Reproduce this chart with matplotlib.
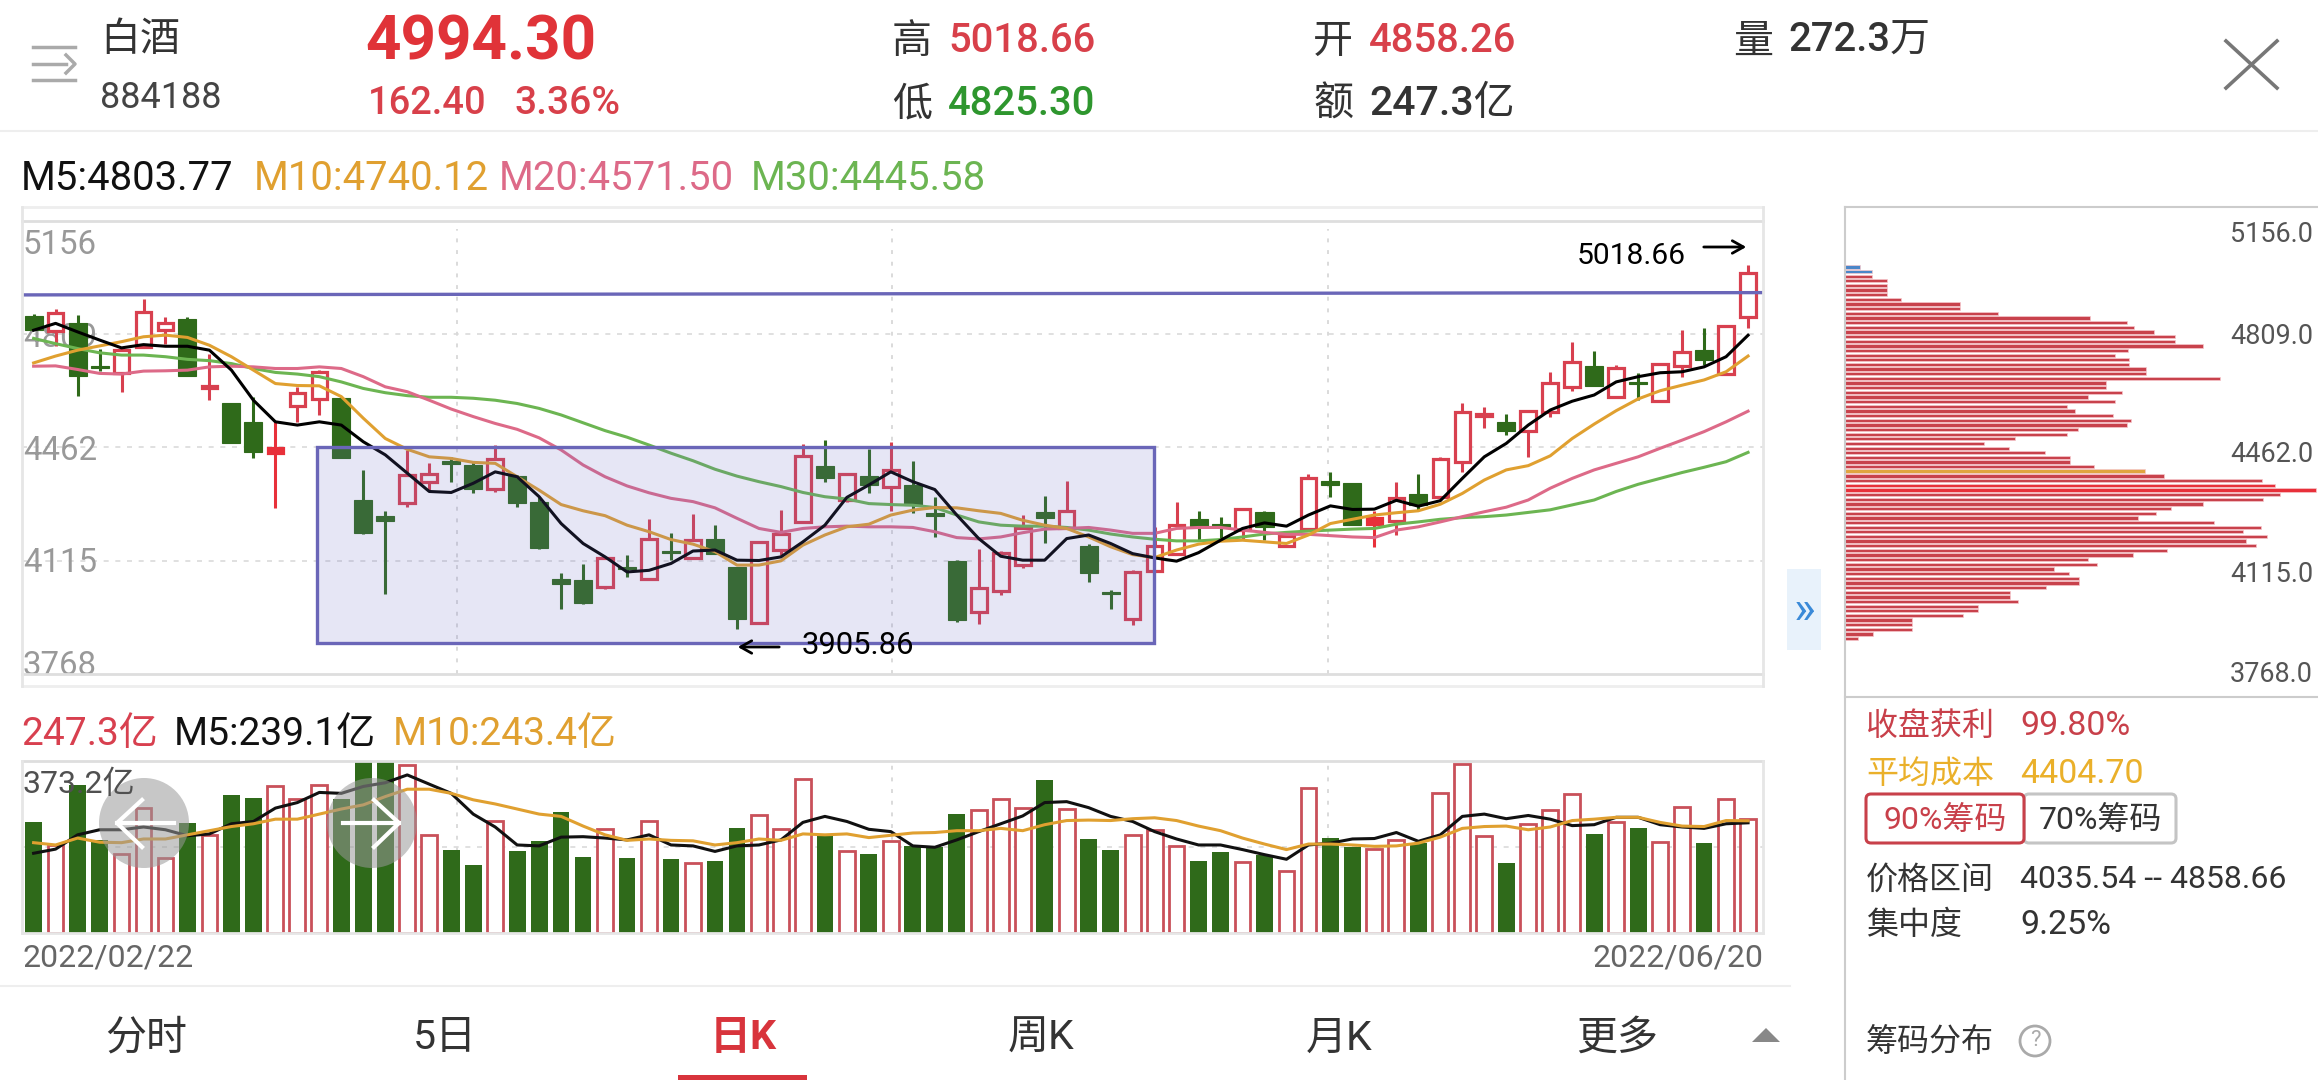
import numpy as np
import matplotlib
matplotlib.use("Agg")
import matplotlib.pyplot as plt
from matplotlib.patches import Circle, Rectangle, FancyBboxPatch

plt.rcParams['font.family'] = ['Roboto', 'Noto Sans CJK SC', 'DejaVu Sans']

W = 2318
H = 1080

# candles
opens = [4862, 4817, 4840, 4710, 4689, 4768, 4819, 4853, 4641, 4595, 4537, 4443, 4587, 4609, 4611, 4300,
         4250, 4292, 4355, 4419, 4407, 4335, 4374, 4293, 4057, 4055, 4034, 4096, 4059, 4145, 4124, 4182,
         4095, 3924, 4147, 4233, 4404, 4300, 4374, 4341, 4346, 4259, 4113, 3958, 4021, 4101, 4263, 4213,
         4159, 4019, 3937, 4082, 4134, 4241, 4228, 4208, 4262, 4159, 4211, 4357, 4351, 4228, 4236, 4317,
         4308, 4415, 4557, 4537, 4512, 4570, 4646, 4710, 4616, 4661, 4603, 4710, 4758, 4686, 4858.26]
closes = [4821, 4873, 4680, 4704, 4758, 4875, 4842, 4680, 4649, 4473, 4448, 4458, 4626, 4692, 4427, 4200,
          4237, 4376, 4379, 4409, 4335, 4424, 4290, 4154, 4042, 3985, 4123, 4089, 4180, 4138, 4177, 4136,
          3936, 4173, 4196, 4434, 4368, 4379, 4347, 4392, 4284, 4251, 3932, 4032, 4139, 4213, 4246, 4267,
          4077, 4013, 4080, 4159, 4225, 4220, 4218, 4271, 4218, 4190, 4368, 4345, 4225, 4244, 4305, 4284,
          4426, 4570, 4563, 4512, 4573, 4658, 4721, 4649, 4704, 4655, 4717, 4752, 4728, 4831, 4994.30]
highs = [4870, 4885, 4867, 4763, 4763, 4914, 4858, 4860, 4746, 4595, 4616, 4539, 4646, 4697, 4616, 4392,
         4266, 4453, 4412, 4430, 4417, 4468, 4376, 4308, 4077, 4104, 4124, 4131, 4242, 4198, 4256, 4223,
         4095, 4173, 4269, 4471, 4483, 4381, 4456, 4476, 4419, 4308, 4117, 4149, 4145, 4254, 4312, 4358,
         4164, 4026, 4086, 4218, 4294, 4266, 4249, 4273, 4266, 4194, 4378, 4385, 4351, 4267, 4355, 4378,
         4432, 4595, 4583, 4562, 4575, 4692, 4782, 4755, 4712, 4687, 4720, 4821, 4826, 4836, 5018.66]
lows = [4821, 4770, 4619, 4695, 4631, 4768, 4778, 4680, 4605, 4473, 4427, 4275, 4539, 4560, 4427, 4196,
        4014, 4279, 4328, 4356, 4320, 4324, 4279, 4149, 3968, 3983, 4029, 4065, 4059, 4116, 4121, 4136,
        3906, 3924, 4131, 4233, 4354, 4295, 4322, 4267, 4259, 4187, 3927, 3922, 4008, 4091, 4167, 4213,
        4050, 3967, 3919, 4080, 4131, 4177, 4182, 4182, 4179, 4159, 4211, 4310, 4225, 4155, 4193, 4269,
        4308, 4387, 4519, 4499, 4432, 4555, 4634, 4649, 4616, 4605, 4603, 4677, 4712, 4686, 4825.30]

# moving averages
m5 = [4819, 4840, 4814, 4789, 4765, 4775, 4770, 4770, 4758, 4697, 4605, 4539, 4529, 4539, 4529, 4478,
      4438, 4382, 4326, 4323, 4351, 4386, 4371, 4310, 4228, 4167, 4126, 4080, 4085, 4106, 4144, 4147,
      4116, 4115, 4126, 4172, 4223, 4308, 4346, 4386, 4356, 4332, 4254, 4182, 4128, 4116, 4116, 4182,
      4193, 4167, 4136, 4123, 4113, 4139, 4177, 4213, 4230, 4220, 4254, 4282, 4271, 4272, 4299, 4281,
      4298, 4366, 4432, 4473, 4529, 4575, 4602, 4621, 4661, 4677, 4689, 4692, 4707, 4738, 4803.77]
m10 = [4719, 4740, 4758, 4771, 4784, 4799, 4804, 4797, 4773, 4738, 4697, 4656, 4650, 4649, 4616, 4550,
       4488, 4455, 4432, 4427, 4415, 4412, 4371, 4330, 4286, 4267, 4252, 4223, 4203, 4179, 4165, 4142,
       4101, 4101, 4114, 4162, 4193, 4218, 4226, 4254, 4269, 4277, 4276, 4267, 4259, 4238, 4223, 4213,
       4187, 4157, 4133, 4124, 4147, 4165, 4174, 4177, 4172, 4167, 4193, 4228, 4241, 4254, 4261, 4267,
       4287, 4320, 4361, 4392, 4405, 4435, 4488, 4532, 4573, 4609, 4634, 4651, 4667, 4692, 4740.12]
m20 = [4709, 4710, 4699, 4687, 4685, 4694, 4695, 4697, 4707, 4709, 4707, 4702, 4702, 4707, 4702, 4677,
       4646, 4631, 4605, 4578, 4555, 4534, 4516, 4490, 4453, 4407, 4371, 4343, 4322, 4305, 4295, 4276,
       4244, 4213, 4201, 4213, 4218, 4220, 4218, 4218, 4216, 4203, 4185, 4181, 4187, 4200, 4211, 4213,
       4216, 4208, 4198, 4198, 4213, 4216, 4216, 4208, 4201, 4195, 4195, 4191, 4187, 4185, 4208, 4218,
       4233, 4249, 4264, 4278, 4300, 4336, 4366, 4392, 4412, 4432, 4458, 4483, 4509, 4539, 4571.50]
m30 = [4794, 4778, 4763, 4750, 4743, 4743, 4738, 4730, 4726, 4717, 4702, 4690, 4685, 4677, 4661, 4641,
       4628, 4619, 4614, 4614, 4611, 4605, 4595, 4580, 4560, 4536, 4512, 4492, 4468, 4443, 4420, 4394,
       4373, 4356, 4341, 4323, 4310, 4303, 4289, 4286, 4284, 4277, 4254, 4233, 4223, 4220, 4220, 4216,
       4208, 4196, 4187, 4180, 4175, 4175, 4179, 4187, 4196, 4201, 4205, 4208, 4211, 4213, 4226, 4233,
       4241, 4246, 4249, 4254, 4262, 4270, 4285, 4300, 4326, 4348, 4366, 4384, 4400, 4417, 4445.58]

# volume in 亿
volumes = [241, 191, 321, 202, 172, 271, 162, 238, 213, 300, 292, 319, 290, 321, 290, 373.2,
           373.2, 365, 213, 181, 148, 242, 178, 200, 263, 165, 225, 162, 243, 160, 152, 157,
           227, 256, 225, 334, 211, 178, 172, 200, 188, 186, 258, 267, 291, 271, 332, 269,
           204, 181, 213, 224, 189, 157, 176, 155, 170, 135, 314, 206, 186, 182, 202, 195,
           303, 367, 211, 152, 237, 267, 302, 215, 240, 227, 198, 273, 195, 291, 247.3]
vol_m5 = [173, 182, 213, 224, 224, 230, 224, 211, 215, 237, 242, 271, 283, 305, 303, 318,
          326, 343, 323, 303, 258, 230, 191, 189, 208, 209, 206, 202, 213, 191, 189, 177,
          189, 191, 202, 240, 253, 242, 225, 220, 189, 186, 202, 220, 237, 254, 283, 285,
          272, 253, 242, 220, 204, 191, 191, 181, 170, 160, 191, 195, 204, 205, 218, 199,
          213, 253, 258, 248, 255, 247, 233, 235, 251, 251, 235, 230, 227, 237, 239.1]
vol_m10 = [196, 191, 206, 197, 196, 204, 204, 213, 222, 231, 237, 247, 247, 258, 269, 278,
           296, 312, 312, 303, 289, 280, 269, 258, 253, 232, 213, 201, 204, 201, 200, 191,
           196, 204, 201, 215, 213, 215, 207, 212, 217, 218, 222, 222, 227, 222, 235, 244,
           245, 244, 248, 250, 244, 232, 222, 206, 193, 181, 193, 193, 191, 188, 189, 195,
           208, 227, 231, 232, 224, 230, 244, 247, 251, 251, 240, 232, 231, 244, 243.4]

# chip distribution, row lengths from top row to bottom row
chip_rows = [46, 82, 82, 127, 127, 127, 127, 169, 346, 346,
             460, 736, 846, 866, 928, 989, 991, 1074, 849, 810,
             852, 852, 902, 903, 1126, 782, 782, 830, 729, 809,
             667, 690, 805, 857, 847, 699, 667, 511, 416, 493,
             599, 676, 676, 748, 899, 957, 1251, 1289, 1414, 1306,
             1255, 1074, 979, 932, 879, 1108, 1249, 1195, 1266, 1202,
             1233, 966, 863, 729, 757, 626, 673, 701, 702, 603,
             496, 496, 520, 400, 400, 354, 202, 202, 202, 84, 39]
chip_top_price = 5001
chip_bottom_price = 3921

main_ticks = [4809, 4462, 4115]
main_labels = ['5156', '4809', '4462', '4115', '3768']
chip_labels = ['5156.0', '4809.0', '4462.0', '4115.0', '3768.0']
tabs = ['分时', '5日', '日K', '周K', '月K', '更多']

RED = '#d8404f'
BRIGHT = '#e8303a'
GREEN = '#2f6a1a'
ORANGE = '#e0a030'
PINK = '#dd6a88'
LEAF = '#6cb552'
BLUE = '#6a66b8'
GRID = '#dadada'
FRAME = '#dedede'


def box(x0, y0, x1, y1):
    return fig.add_axes([x0 / W, 1 - y1 / H, (x1 - x0) / W, (y1 - y0) / H])


def put(x, y, s, size, color, ha='left', weight='normal'):
    # va center sits a bit high for these fonts
    ui.text(x, y + 3, s, fontsize=size * 0.72, color=color, ha=ha, va='center', weight=weight)


def bare(a):
    a.set_xticks([])
    a.set_yticks([])
    for s in a.spines.values():
        s.set_visible(False)
    a.patch.set_alpha(0)


fig = plt.figure(figsize=(W / 100, H / 100), dpi=100, facecolor='white')

ui = fig.add_axes([0, 0, 1, 1], zorder=5)
ui.set_xlim(0, W)
ui.set_ylim(H, 0)
bare(ui)

xs = np.arange(len(opens))
x_left = -0.528
x_right = 78.68
grid_x = [19.25, 39.07, 58.9]

# main price panel
ax = box(22, 220, 1763, 674)
bare(ax)
ax.set_xlim(x_left, x_right)
ax.set_ylim(3768, 5156)
for p in main_ticks:
    ax.plot([x_left, x_right], [p, p], color=GRID, lw=1.2, ls=(0, (3, 4)), zorder=1)
for g in grid_x:
    ax.plot([g, g], [3768, 5130], color=GRID, lw=1.4, ls=(0, (2, 4)), zorder=1)
for lab, y in zip(main_labels, [245, 338, 451, 563, 666]):
    ax.text(23, y, lab, transform=ui.transData, fontsize=33 * 0.72, color='#999999', va='center', zorder=1)

for i in xs:
    up = closes[i] >= opens[i]
    solid = i in (11, 61)
    col = BRIGHT if solid else (RED if up else GREEN)
    ax.plot([i, i], [lows[i], highs[i]], color=col, lw=2.2, zorder=2, solid_capstyle='butt')
    if up:
        face = BRIGHT if solid else 'white'
        ax.bar(i, closes[i] - opens[i], bottom=opens[i], width=0.71, facecolor=face, edgecolor=col, lw=2.3, zorder=3)
    else:
        ax.bar(i, opens[i] - closes[i], bottom=closes[i], width=0.82, facecolor=col, edgecolor=col, lw=0.8, zorder=3)

ax.plot(xs, m30, color=LEAF, lw=2.2, zorder=4)
ax.plot(xs, m20, color=PINK, lw=2.2, zorder=4)
ax.plot(xs, m10, color=ORANGE, lw=2.2, zorder=4)
ax.plot(xs, m5, color='black', lw=2.2, zorder=5)

# hand drawn marks on the screenshot
ax.plot([x_left, x_right], [4927, 4934], color=BLUE, lw=2.4, zorder=6)
ax.add_patch(Rectangle((12.9, 3863), 50.97 - 12.9, 4462 - 3863, facecolor=(0.42, 0.42, 0.78, 0.17),
                       edgecolor=BLUE, lw=2.4, zorder=6))
put(1577, 253, '5018.66', 30, 'black')
ui.annotate('', xy=(1749, 247), xytext=(1701, 247), arrowprops=dict(arrowstyle='->,head_width=0.45,head_length=0.8', color='black', lw=2))
put(802, 643, '3905.86', 31, 'black')
ui.annotate('', xy=(735, 647), xytext=(782, 647), arrowprops=dict(arrowstyle='->,head_width=0.45,head_length=0.8', color='black', lw=2))

# volume panel
vx = box(22, 761, 1763, 933)
bare(vx)
vx.set_xlim(x_left, x_right)
vx.set_ylim(0, 373.2)
vx.plot([x_left, x_right], [186.6, 186.6], color=GRID, lw=1.2, ls=(0, (3, 4)), zorder=1)
for g in grid_x:
    vx.plot([g, g], [0, 373.2], color=GRID, lw=1.4, ls=(0, (2, 4)), zorder=1)
for i in xs:
    if closes[i] >= opens[i]:
        vx.bar(i, volumes[i], width=0.72, facecolor='white', edgecolor='#c9505a', lw=2.0, zorder=2)
    else:
        vx.bar(i, volumes[i], width=0.76, color=GREEN, zorder=2)
vx.plot(xs, vol_m5, color='#111111', lw=2.2, zorder=3)
vx.plot(xs, vol_m10, color=ORANGE, lw=2.2, zorder=3)
put(23, 781, '373.2亿', 32, '#505050')

# chip panel
cx = box(1845, 213.5, 2318, 691.4)
bare(cx)
cx.set_xlim(0, 1419)
cx.set_ylim(3768, 5156)
prices = np.linspace(chip_top_price, chip_bottom_price, len(chip_rows))
for k, (p, v) in enumerate(zip(prices, chip_rows)):
    col = '#c8424c'
    hh = 9.5
    if k < 2:
        col = '#4a86c8'
    elif k == 44:
        col = '#e0a540'
        hh = 11.5
    elif k in (47, 48):
        col = BRIGHT
    cx.barh(p, v, height=hh, color=col, edgecolor='#f6c8cc', lw=0.5)
for lab, y in zip(chip_labels, [231, 333, 452, 572, 672]):
    put(2313, y, lab, 27, '#555555', ha='right')

# frames and separators
for y0, c in [(207, '#eeeeee'), (220.5, FRAME), (673.5, FRAME), (686, '#eeeeee')]:
    ui.plot([22, 1763], [y0, y0], color=c, lw=2)
ui.plot([22, 22], [207, 686], color='#e6e6e6', lw=2)
ui.plot([1763, 1763], [207, 686], color='#e6e6e6', lw=2)
ui.plot([22, 1763], [761, 761], color=FRAME, lw=2)
ui.plot([22, 22], [761, 933], color='#e6e6e6', lw=2)
ui.plot([1763, 1763], [761, 933], color='#e6e6e6', lw=2)
ui.plot([22, 1763], [933, 933], color='#e6e6e6', lw=2)
ui.plot([0, W], [131, 131], color='#eeeeee', lw=1.5)
ui.plot([0, 1790], [986, 986], color='#eeeeee', lw=1.5)
ui.plot([1845, 1845], [207, H], color='#cccccc', lw=1.5)
ui.plot([1845, W], [207, 207], color='#cccccc', lw=1.5)
ui.plot([1845, W], [697, 697], color='#cccccc', lw=1.5)

# header
for y in (47, 80):
    ui.plot([33, 75], [y, y], color='#aaaaaa', lw=2.5)
ui.plot([33, 66], [64, 64], color='#aaaaaa', lw=2.5)
ui.plot([66, 75, 66], [55, 64, 73], color='#aaaaaa', lw=2.5)
put(100, 37, '白酒', 40, '#333333')
put(100, 95, '884188', 36, '#444444')
put(365, 40, '4994.30', 62, '#e03338', weight='bold')
put(368, 101, '162.40', 38, '#d8404a', weight='medium')
put(514, 101, '3.36%', 39, '#d8404a', weight='medium')
put(892, 38, '高', 40, '#333333')
put(948, 38, '5018.66', 40, '#d8404a', weight='medium')
put(892, 101, '低', 40, '#333333')
put(948, 101, '4825.30', 40, '#2e962e', weight='medium')
put(1313, 38, '开', 40, '#333333')
put(1369, 38, '4858.26', 40, '#d8404a', weight='medium')
put(1313, 101, '额', 40, '#333333')
put(1369, 101, '247.3亿', 41, '#333333', weight='medium')
put(1733, 38, '量', 40, '#333333')
put(1788, 38, '272.3万', 40, '#333333', weight='medium')
ui.plot([2226, 2277], [41, 88], color='#777777', lw=2.6)
ui.plot([2226, 2277], [88, 41], color='#777777', lw=2.6)

# legend rows
put(21, 176, 'M5:4803.77', 40, '#111111')
put(254, 176, 'M10:4740.12', 40, ORANGE)
put(499, 176, 'M20:4571.50', 40, PINK)
put(751, 176, 'M30:4445.58', 40, LEAF)
put(21, 731, '247.3亿', 39, RED)
put(174, 731, 'M5:239.1亿', 39, '#111111')
put(393, 731, 'M10:243.4亿', 39, ORANGE)
put(22, 955, '2022/02/22', 32, '#666666')
put(1763, 955, '2022/06/20', 32, '#666666', ha='right')

# scroll buttons
ui.add_patch(Circle((144, 823), 45, facecolor='#999999', alpha=0.55, lw=0))
ui.add_patch(Circle((372, 823), 45, facecolor='#999999', alpha=0.55, lw=0))
ui.plot([174, 117], [823, 823], color='white', lw=3)
ui.plot([142, 117, 142], [800, 823, 847], color='white', lw=3)
ui.plot([343, 399], [823, 823], color='white', lw=3)
ui.plot([374, 399, 374], [800, 823, 847], color='white', lw=3)

# tabs
for lab, x in zip(tabs, [146, 445, 743, 1041, 1339, 1617]):
    if lab == '日K':
        put(x, 1035, lab, 41, '#d8343c', ha='center', weight='bold')
    else:
        put(x, 1035, lab, 41, '#333333', ha='center')
ui.add_patch(Rectangle((678, 1075), 129, 5, facecolor='#d8343c', lw=0))
ui.fill([1752, 1780, 1766], [1042, 1042, 1028], color='#888888', lw=0)

# expander
ui.add_patch(Rectangle((1787, 569), 34, 81, facecolor='#e8f2fb', lw=0))
put(1804, 607, '»', 46, '#3a8ad8', ha='center')

# chip panel texts
put(1866, 723, '收盘获利', 32, '#c8404a')
put(2020, 723, '99.80%', 34, '#c8404a')
put(1866, 771, '平均成本', 32, '#eab02a')
put(2020, 771, '4404.70', 34, '#eab02a')
ui.add_patch(FancyBboxPatch((2024, 794), 152, 49, boxstyle='round,pad=0,rounding_size=5', facecolor='white', edgecolor='#c4c4c4', lw=2.2))
ui.add_patch(FancyBboxPatch((1866, 794), 158, 49, boxstyle='round,pad=0,rounding_size=5', facecolor='white', edgecolor='#c8404a', lw=2.2))
put(1945, 817, '90%筹码', 32, '#c8404a', ha='center')
put(2100, 817, '70%筹码', 32, '#333333', ha='center')
put(1866, 877, '价格区间', 32, '#333333')
put(2020, 877, '4035.54 -- 4858.66', 32, '#333333')
put(1866, 922, '集中度', 32, '#333333')
put(2020, 922, '9.25%', 34, '#333333')
put(1866, 1039, '筹码分布', 32, '#333333')
ui.add_patch(Circle((2035, 1041), 15, facecolor='white', edgecolor='#aaaaaa', lw=2))
put(2035, 1038, '?', 22, '#aaaaaa', ha='center')

fig.savefig('out.png', dpi=100)
